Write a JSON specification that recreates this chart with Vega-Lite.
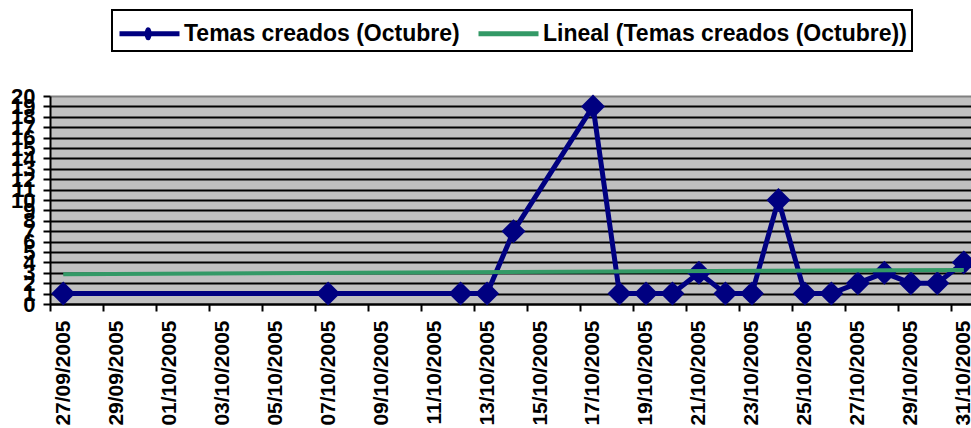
{
  "$schema": "https://vega.github.io/schema/vega-lite/v6.json",
  "width": 921,
  "height": 208,
  "autosize": {"type": "none"},
  "padding": {"left": 50, "top": 96, "right": 0, "bottom": 124},
  "background": "white",
  "config": {
    "view": {"fill": "#C0C0C0", "stroke": null},
    "font": "Liberation Sans",
    "legend": {"strokeWidth": 2}
  },
  "datasets": {
    "main": [
      {"date": "2005-09-27T00:00:00", "value": 1},
      {"date": "2005-10-07T00:00:00", "value": 1},
      {"date": "2005-10-12T00:00:00", "value": 1},
      {"date": "2005-10-13T00:00:00", "value": 1},
      {"date": "2005-10-14T00:00:00", "value": 7},
      {"date": "2005-10-17T00:00:00", "value": 19},
      {"date": "2005-10-18T00:00:00", "value": 1},
      {"date": "2005-10-19T00:00:00", "value": 1},
      {"date": "2005-10-20T00:00:00", "value": 1},
      {"date": "2005-10-21T00:00:00", "value": 3},
      {"date": "2005-10-22T00:00:00", "value": 1},
      {"date": "2005-10-23T00:00:00", "value": 1},
      {"date": "2005-10-24T00:00:00", "value": 10},
      {"date": "2005-10-25T00:00:00", "value": 1},
      {"date": "2005-10-26T00:00:00", "value": 1},
      {"date": "2005-10-27T00:00:00", "value": 2},
      {"date": "2005-10-28T00:00:00", "value": 3},
      {"date": "2005-10-29T00:00:00", "value": 2},
      {"date": "2005-10-30T00:00:00", "value": 2},
      {"date": "2005-10-31T00:00:00", "value": 4}
    ],
    "trend": [
      {"date": "2005-09-27T00:00:00", "value": 2.87},
      {"date": "2005-10-31T00:00:00", "value": 3.28}
    ]
  },
  "encoding": {
    "x": {
      "field": "date",
      "type": "temporal",
      "scale": {
        "domain": [
          {"year": 2005, "month": 9, "date": 26, "hours": 12},
          {"year": 2005, "month": 10, "date": 31, "hours": 6, "minutes": 30}
        ]
      },
      "axis": {
        "title": null,
        "grid": false,
        "format": "%d/%m/%Y",
        "values": [
          {"year": 2005, "month": 9, "date": 27},
          {"year": 2005, "month": 9, "date": 29},
          {"year": 2005, "month": 10, "date": 1},
          {"year": 2005, "month": 10, "date": 3},
          {"year": 2005, "month": 10, "date": 5},
          {"year": 2005, "month": 10, "date": 7},
          {"year": 2005, "month": 10, "date": 9},
          {"year": 2005, "month": 10, "date": 11},
          {"year": 2005, "month": 10, "date": 13},
          {"year": 2005, "month": 10, "date": 15},
          {"year": 2005, "month": 10, "date": 17},
          {"year": 2005, "month": 10, "date": 19},
          {"year": 2005, "month": 10, "date": 21},
          {"year": 2005, "month": 10, "date": 23},
          {"year": 2005, "month": 10, "date": 25},
          {"year": 2005, "month": 10, "date": 27},
          {"year": 2005, "month": 10, "date": 29},
          {"year": 2005, "month": 10, "date": 31}
        ],
        "tickOffset": -13.25,
        "labelOffset": 13.25,
        "labelAngle": 270,
        "labelAlign": "right",
        "labelBaseline": "middle",
        "labelFont": "Liberation Sans",
        "labelFontSize": 21,
        "labelFontWeight": "bold",
        "labelColor": "black",
        "labelPadding": 9,
        "labelOverlap": false,
        "labelFlush": false,
        "labelBound": false,
        "domainColor": "black",
        "domainWidth": 2,
        "tickColor": "black",
        "tickWidth": 2,
        "tickSize": 7
      }
    },
    "y": {
      "field": "value",
      "type": "quantitative",
      "scale": {"domain": [0, 20], "nice": false, "zero": true},
      "axis": {
        "title": null,
        "values": [0, 1, 2, 3, 4, 5, 6, 7, 8, 9, 10, 11, 12, 13, 14, 15, 16, 17, 18, 19, 20],
        "grid": true,
        "gridColor": {"condition": {"test": "datum.value === 20", "value": "#808080"}, "value": "black"},
        "gridWidth": 2,
        "labelFont": "Liberation Sans",
        "labelFontSize": 22,
        "labelFontWeight": "bold",
        "labelColor": "black",
        "labelPadding": 8,
        "labelOverlap": false,
        "labelFlush": false,
        "labelBound": false,
        "domainColor": "black",
        "domainWidth": 2,
        "tickColor": "black",
        "tickWidth": 2,
        "tickSize": 7
      }
    }
  },
  "layer": [
    {
      "data": {"name": "main"},
      "mark": {"type": "line", "strokeWidth": 5},
      "encoding": {
        "color": {
          "datum": "Temas creados (Octubre)",
          "scale": {
            "domain": ["Temas creados (Octubre)", "Lineal (Temas creados (Octubre))"],
            "range": ["#000080", "#339966"]
          },
          "legend": {
            "orient": "none",
            "legendX": 62,
            "legendY": -86,
            "direction": "horizontal",
            "title": null,
            "padding": 5,
            "strokeColor": "black",
            "fillColor": "white",
            "symbolSize": 1024,
            "symbolStrokeWidth": 5,
            "labelFont": "Liberation Sans",
            "labelFontSize": 23,
            "labelFontWeight": "bold",
            "labelColor": "black",
            "labelOffset": 30,
            "labelLimit": 600,
            "columnPadding": 16,
            "encode": {
              "symbols": {
                "update": {
                  "shape": {"signal": "datum.value === 'Temas creados (Octubre)' ? 'M-1,0L2.75,0M0.696,0L0.79,-0.25L0.884,0L0.79,0.25Z' : 'M-1,0L2.75,0'"},
                  "fill": {"signal": "datum.value === 'Temas creados (Octubre)' ? '#000080' : 'transparent'"},
                  "strokeJoin": {"value": "round"}
                }
              }
            }
          }
        }
      }
    },
    {
      "data": {"name": "main"},
      "mark": {"type": "point", "shape": "diamond", "filled": true, "size": 576, "opacity": 1, "color": "#000080"}
    },
    {
      "data": {"name": "trend"},
      "mark": {"type": "line", "strokeWidth": 4},
      "encoding": {
        "color": {"datum": "Lineal (Temas creados (Octubre))"}
      }
    }
  ]
}
